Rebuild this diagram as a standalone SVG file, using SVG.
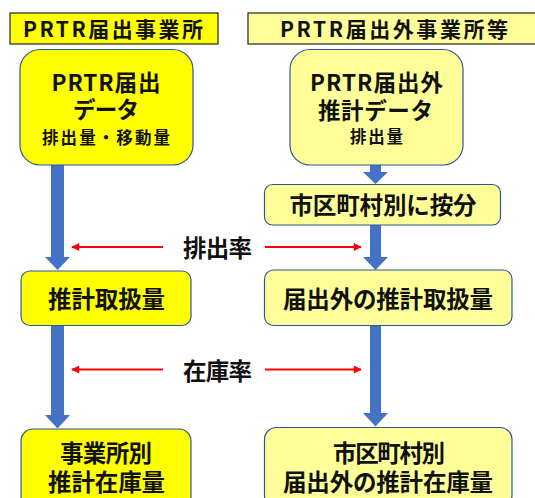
<svg xmlns="http://www.w3.org/2000/svg" width="535" height="498" viewBox="0 0 535 498">
<style>
text{font-family:"Noto Sans CJK JP","Noto Sans CJK SC",sans-serif;font-weight:bold;fill:#111;text-anchor:middle}
.hdr{stroke:#333;stroke-width:1.3}
.y1{fill:#FFFF00;stroke:#2F5597;stroke-width:1.2}
.y2{fill:#FFFF99;stroke:#2F5597;stroke-width:1.2}
.blue{fill:#4472C4}
.red{stroke:#FF0000;stroke-width:2;fill:none}
.big{font-size:23.5px}
.mid{font-size:22.5px}
.sm{font-size:16.5px}
.h{font-size:21px}
</style>
<defs>
<marker id="rh" viewBox="0 0 10 10" refX="9" refY="5" markerWidth="4.5" markerHeight="4" orient="auto-start-reverse" markerUnits="strokeWidth">
<path d="M0,0 L10,5 L0,10 z" fill="#FF0000"/>
</marker>
</defs>
<g id="connectors">
<path class="blue" d="M51,165 H64 V257 H70 L57.5,270 L45,257 H51 Z"/>
<path class="blue" d="M51,325 H64 V415 H70 L57.5,428.5 L45,415 H51 Z"/>
<path class="blue" d="M370,165 H381 V172 H388 L375.5,184 L363,172 H370 Z"/>
<path class="blue" d="M370,225 H381 V257 H388 L375.5,270 L363,257 H370 Z"/>
<path class="blue" d="M370,325 H381 V413 H388 L375.5,426.5 L363,413 H370 Z"/>
<line class="red" x1="163" y1="247" x2="72" y2="247" marker-end="url(#rh)"/>
<line class="red" x1="265" y1="247" x2="361" y2="247" marker-end="url(#rh)"/>
<line class="red" x1="163" y1="369.5" x2="72" y2="369.5" marker-end="url(#rh)"/>
<line class="red" x1="265" y1="369.5" x2="361" y2="369.5" marker-end="url(#rh)"/>
</g>
<g id="header-left">
<rect class="hdr" x="10" y="13" width="208" height="31" fill="#FFFF00"/>
<text class="h" x="113" y="36.5" textLength="180" lengthAdjust="spacing">PRTR届出事業所</text>
</g>
<g id="header-right">
<rect class="hdr" x="248" y="13" width="300" height="31" fill="#FFFF99"/>
<text class="h" x="394" y="36.5" textLength="228" lengthAdjust="spacing">PRTR届出外事業所等</text>
</g>
<g id="prtr-data">
<rect class="y1" x="20" y="49.5" width="173" height="115.5" rx="20"/>
<text class="mid" x="106" y="91" textLength="109" lengthAdjust="spacing">PRTR届出</text>
<text class="mid" x="106" y="118" textLength="66" lengthAdjust="spacing">データ</text>
<text class="sm" x="106" y="143.5" textLength="128" lengthAdjust="spacing">排出量・移動量</text>
</g>
<g id="non-prtr-data">
<rect class="y2" x="290" y="49.5" width="173" height="115.5" rx="20"/>
<text class="mid" x="376.5" y="91" textLength="133" lengthAdjust="spacing">PRTR届出外</text>
<text class="mid" x="375.5" y="118.5" textLength="115" lengthAdjust="spacing">推計データ</text>
<text class="sm" x="376.5" y="143" textLength="53" lengthAdjust="spacing">排出量</text>
</g>
<g id="allocate">
<rect class="y2" x="264.5" y="184.5" width="236" height="40.5" rx="8"/>
<text class="big" x="383" y="213.5" textLength="187" lengthAdjust="spacing">市区町村別に按分</text>
</g>
<g id="rate-emission">
<text class="big" x="217.5" y="256.5" textLength="69" lengthAdjust="spacing">排出率</text>
</g>
<g id="handling-left">
<rect class="y1" x="21" y="271" width="170" height="54.5" rx="9"/>
<text class="big" x="106.5" y="307.5" textLength="117" lengthAdjust="spacing">推計取扱量</text>
</g>
<g id="handling-right">
<rect class="y2" x="264.5" y="270" width="247.5" height="55.5" rx="9"/>
<text class="big" x="388" y="307.5" textLength="210" lengthAdjust="spacing">届出外の推計取扱量</text>
</g>
<g id="rate-stock">
<text class="big" x="217.5" y="379.5" textLength="69" lengthAdjust="spacing">在庫率</text>
</g>
<g id="stock-left">
<rect class="y1" x="21" y="429" width="170" height="80" rx="12"/>
<text class="big" x="106" y="461.5" textLength="92" lengthAdjust="spacing">事業所別</text>
<text class="big" x="106.5" y="490.5" textLength="117" lengthAdjust="spacing">推計在庫量</text>
</g>
<g id="stock-right">
<rect class="y2" x="264.5" y="427.5" width="247.5" height="80" rx="12"/>
<text class="big" x="389" y="461.5" textLength="112" lengthAdjust="spacing">市区町村別</text>
<text class="big" x="388" y="490.5" textLength="210" lengthAdjust="spacing">届出外の推計在庫量</text>
</g>
</svg>
